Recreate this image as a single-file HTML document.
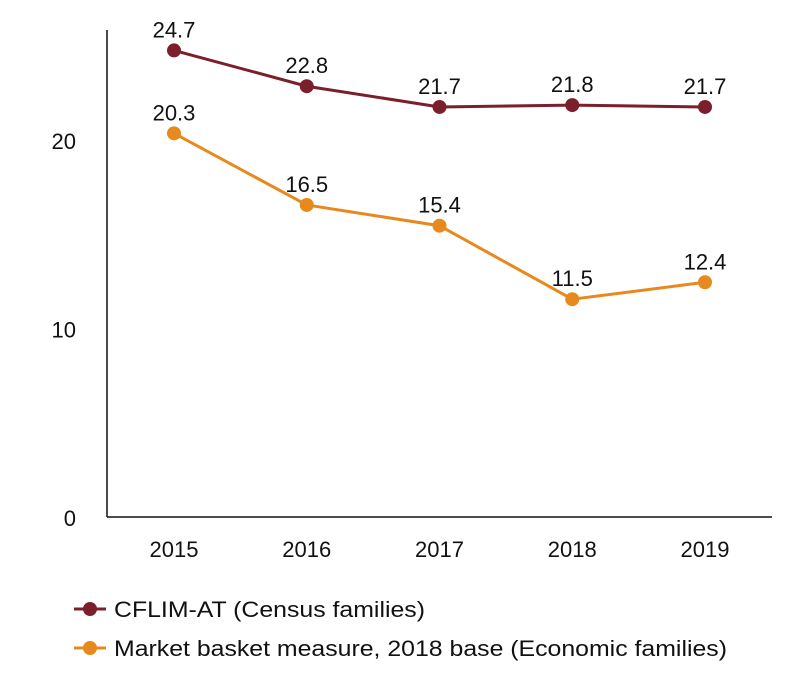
<!DOCTYPE html>
<html><head><meta charset="utf-8"><style>
html,body{margin:0;padding:0;background:#fff;}
svg text{font-family:"Liberation Sans",sans-serif;fill:#111;}
</style></head><body>
<svg width="797" height="690" xmlns="http://www.w3.org/2000/svg">
<g id="axes"></g><g id="series"></g>
<g>
 <g>
  <line x1="74" y1="609" x2="106" y2="609" stroke="#7b1f2c" stroke-width="3"/>
  <circle cx="90" cy="609" r="7" fill="#7b1f2c"/>
  <text x="114" y="617" font-size="22" textLength="311" lengthAdjust="spacingAndGlyphs">CFLIM-AT (Census families)</text>
 </g>
 <g>
  <line x1="74" y1="648" x2="106" y2="648" stroke="#e8891d" stroke-width="3"/>
  <circle cx="90" cy="648" r="7" fill="#e8891d"/>
  <text x="114" y="656" font-size="22" textLength="613" lengthAdjust="spacingAndGlyphs">Market basket measure, 2018 base (Economic families)</text>
 </g>
</g>
</svg>
<script>
const categories=["2015","2016","2017","2018","2019"];
const cflim=[24.7,22.8,21.7,21.8,21.7];
const mbm=[20.3,16.5,15.4,11.5,12.4];
const yTicks=[0,10,20];
const NS="http://www.w3.org/2000/svg";
const x=i=>174+i*132.75;
const y=v=>516-v*18.85;
function mk(tag,attrs,parent,txt){const e=document.createElementNS(NS,tag);for(const k in attrs)e.setAttribute(k,attrs[k]);if(txt!==undefined)e.textContent=txt;parent.appendChild(e);return e;}
const axes=document.getElementById('axes');
let e=mk('line',{x1:107,y1:30,x2:107,y2:517,stroke:'#111','stroke-width':1.5},axes);


e=mk('line',{x1:107,y1:517,x2:772,y2:517,stroke:'#111','stroke-width':1.5},axes);


yTicks.forEach(t=>{const el=mk('text',{x:76,y:y(t)+10,'font-size':22,'text-anchor':'end'},axes,String(t));

});
categories.forEach((c,i)=>{const el=mk('text',{x:x(i),y:557,'font-size':22,'text-anchor':'middle'},axes,c);

});
const ser=document.getElementById('series');
function draw(vals,color,name){
 const g=mk('g',{},ser);
 
 
 const p=mk('polyline',{points:vals.map((v,i)=>x(i)+','+y(v)).join(' '),fill:'none',stroke:color,'stroke-width':3},g);
 
 
 vals.forEach((v,i)=>{
  const c=mk('circle',{cx:x(i),cy:y(v),r:7,fill:color},g);
  
  
  const t=mk('text',{x:x(i),y:y(v)-13,'font-size':22,'text-anchor':'middle'},g,v.toFixed(1));
  
  
 });
}
draw(cflim,'#7b1f2c','cflim-series');
draw(mbm,'#e8891d','mbm-series');
</script>
</body></html>
